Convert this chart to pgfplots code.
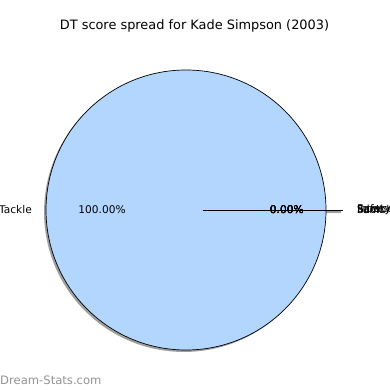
\documentclass[border=0pt]{standalone}
\usepackage{pgfplots}
\pgfplotsset{compat=1.18}
\usepackage{fontspec}
\setmainfont{DejaVu Sans}
\definecolor{pieblue}{HTML}{B3D6FF}
\definecolor{wmgray}{HTML}{939393}
\begin{document}
\begin{tikzpicture}
\begin{axis}[width=390bp,height=390bp,scale only axis,hide axis,
  xmin=-1.3286,xmax=1.4571,ymin=-1.2857,ymax=1.5,clip=true]
% data (percent): Tackle 100, Sack 0, Fumble 0, Interception 0, Safety 0
% shadows
\fill[gray!75] (axis cs:-0.014,-0.014) circle[radius=1];
\draw[gray!75, line width=1.2bp] (axis cs:0.98,-0.014) -- (axis cs:1.106,-0.014);
% Tackle: 100 %
\filldraw[fill=pieblue, draw=black, line width=0.7bp] (axis cs:0,0) circle[radius=1];
% zero-size wedges, exploded
\draw[black, line width=0.8bp] (axis cs:0.12,0) -- (axis cs:1.12,0);
\begin{scope}[every node/.style={inner sep=0pt, font=\fontsize{10.6bp}{12bp}\selectfont}]
\node[anchor=east] at (axis cs:-1.1,0) {Tackle};
\node at (axis cs:-0.6,0) {100.00\%};
\node at (axis cs:0.72,0) {0.00\%};
\node at (axis cs:0.72,0) {0.00\%};
\node at (axis cs:0.72,0) {0.00\%};
\node at (axis cs:0.72,0) {0.00\%};
\node[anchor=west] at (axis cs:1.22,0) {Sack};
\node[anchor=west] at (axis cs:1.22,0) {Fumble};
\node[anchor=west] at (axis cs:1.22,0) {Interception};
\node[anchor=west] at (axis cs:1.22,0) {Safety};
\end{scope}
\node[inner sep=0pt, font=\fontsize{12.9bp}{15bp}\selectfont] at (axis cs:0.0607,1.3143) {DT score spread for Kade Simpson (2003)};
\node[inner sep=0pt, anchor=west, text=wmgray, font=\fontsize{11.6bp}{13bp}\selectfont] at (axis cs:-1.3286,-1.2143) {Dream-Stats.com};
\end{axis}
\pgfresetboundingbox
\path (current axis.south west) rectangle (current axis.north east);
\end{tikzpicture}
\end{document}
